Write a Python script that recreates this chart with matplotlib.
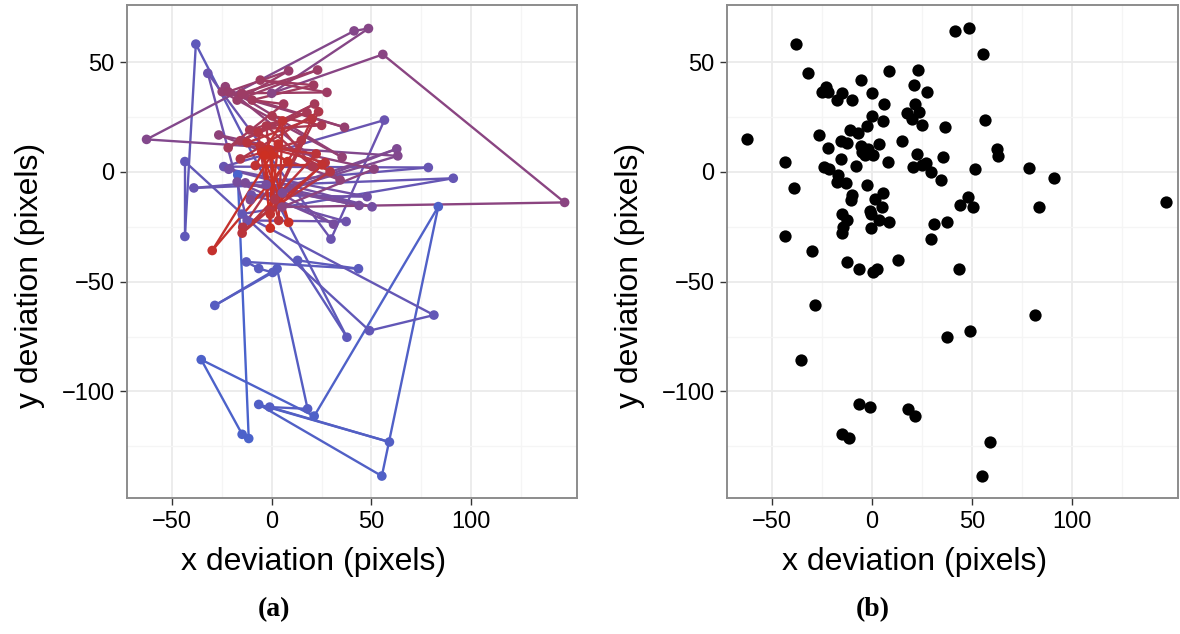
import numpy as np
import matplotlib
matplotlib.use("Agg")
import matplotlib.pyplot as plt
from matplotlib.colors import LinearSegmentedColormap
from matplotlib.collections import LineCollection

# Gaze deviation samples in recording order (pixels)
x_dev = [-17.0, -11.5, -14.8, -35.3, 21.3, 83.5, 55.2, -6.5, 59.0, -1.0,
         18.0, 2.7, -28.5, 0.5, -6.5, -12.7,
         43.5, 13.0, 37.7, -38.0, -43.5, -43.5, 49.0, 81.3, -14.8, 91.0,
         -39.0, 78.5, -24.0, 56.5, 29.7, -32.0, -12.3, 37.3, -10.2, 47.8,
         -21.5, 50.3, -2.7, 31.0, -17.3, 43.8, -13.2, 5.3,
         62.7, -10.7, 63.2, -62.7, 41.3, 48.5, 0.0, 55.7, 146.8, 5.2,
         51.3, -26.5, 34.3, -23.2, 35.3, -24.8, 36.5, -21.8, 8.5, -17.3,
         23.0, -15.0, 27.7, -5.7, 21.0, -9.8, 6.0, -21.8, 21.5, -15.7,
         17.7, -11.0, 25.0,
         0.2, 20.5, -2.7, 1.6, 23.5, -15.7, 14.8, -14.5, 29.3, -6.8,
         -1.2, 20.2, -12.3, 26.8, -14.8, 22.3, -5.7, 3.5, 5.5, -8.2,
         25.2, -0.7, 3.3, -29.8, 8.0, -1.8, 8.5, -5.0, 0.3, -0.7, -3.5]
y_dev = [-1.4, -121.4, -119.5, -85.5, -111.2, -15.8, -138.5, -105.9, -123.0, -107.1,
         -107.9, -44.1, -60.8, -45.8, -44.0, -41.0,
         -44.1, -40.3, -75.3, 58.2, -29.4, 4.7, -72.3, -65.2, -19.2, -2.9,
         -7.3, 2.0, 2.4, 23.6, -30.6, 44.9, -22.1, -22.6, -10.5, -11.3,
         1.2, -15.9, -5.8, -23.8, -4.6, -15.3, -5.0, -9.6,
         10.5, -12.7, 7.3, 14.8, 64.2, 65.3, 35.8, 53.5, -13.9, -16.0,
         1.3, 16.8, -3.7, 38.8, 6.7, 36.5, 20.3, 36.5, 46.0, 32.7,
         46.4, 35.8, 36.2, 41.8, 39.5, 32.7, 30.9, 11.0, 30.9, 14.2,
         27.0, 19.1, 21.2,
         25.5, 2.4, 20.9, -12.5, 27.4, 5.9, 14.2, -25.2, 0.1, 17.9,
         -17.6, 24.2, 13.3, 4.2, -27.9, 8.2, 11.8, -22.1, 23.2, 2.9,
         3.2, -19.3, 12.7, -35.8, 4.7, 10.2, -23.0, 9.0, 7.7, -25.6, 7.5]

x_ticks = [-50, 0, 50, 100]
y_ticks = [50, 0, -50, -100]
x_label = "x deviation (pixels)"
y_label = "y deviation (pixels)"
captions = ["(a)", "(b)"]

plt.rcParams["font.family"] = ["Liberation Sans", "DejaVu Sans"]
plt.rcParams["axes.unicode_minus"] = True

time_cmap = LinearSegmentedColormap.from_list(
    "time", [(0.0, "#4a63cc"), (0.3, "#6d52ad"), (0.6, "#9c3c66"),
             (1.0, "#cc2f22")])

W, H = 1180, 634
fig = plt.figure(figsize=(W / 100, H / 100), dpi=100)
ax_a = fig.add_axes([127 / W, 1 - 498 / H, 450 / W, 493 / H])
ax_b = fig.add_axes([727 / W, 1 - 498 / H, 451 / W, 493 / H])

x = np.array(x_dev)
y = np.array(y_dev)
t = np.linspace(0, 1, len(x))

# (a) trajectory coloured by time
pts = np.column_stack([x, y]).reshape(-1, 1, 2)
segs = np.concatenate([pts[:-1], pts[1:]], axis=1)
lc = LineCollection(segs, colors=time_cmap((t[:-1] + t[1:]) / 2),
                    linewidths=1.7, zorder=3)
ax_a.add_collection(lc)
ax_a.scatter(x, y, c=time_cmap(t), s=48, zorder=4, linewidths=0)

# (b) same samples without the path
ax_b.scatter(x, y, c="black", s=78, zorder=4, linewidths=0)

# label positions in figure pixels: (xlabel x, ylabel x, caption x)
label_pos = [(314, 30, 274), (915, 630, 873)]

for ax, cap, (xl, yl, cx) in zip([ax_a, ax_b], captions, label_pos):
    ax.set_xlim(-72.5, 153)
    ax.set_ylim(-148.5, 76)
    ax.set_xticks(x_ticks)
    ax.set_yticks(y_ticks)
    ax.set_xticks([-25, 25, 75, 125], minor=True)
    ax.set_yticks([25, -25, -75, -125], minor=True)
    ax.grid(True, which="major", color="#ebebeb", linewidth=1.3, zorder=0)
    ax.grid(True, which="minor", color="#f5f5f5", linewidth=0.9, zorder=0)
    ax.set_axisbelow(True)
    ax.tick_params(which="major", direction="out", length=5, width=1,
                   color="#333333", labelsize=17, labelcolor="black", pad=4)
    ax.tick_params(which="minor", length=0)
    for s in ax.spines.values():
        s.set_color("#8c8c8c")
        s.set_linewidth(1.4)
    fig.text(xl / W, 1 - 562 / H, x_label, ha="center", va="center",
             fontsize=23)
    fig.text(yl / W, 1 - 275 / H, y_label, ha="center", va="center",
             fontsize=23, rotation=90)
    fig.text(cx / W, 1 - 610 / H, cap, ha="center", va="center",
             fontsize=20, fontweight="bold", family="Liberation Serif")

fig.savefig("out.png", dpi=100)
